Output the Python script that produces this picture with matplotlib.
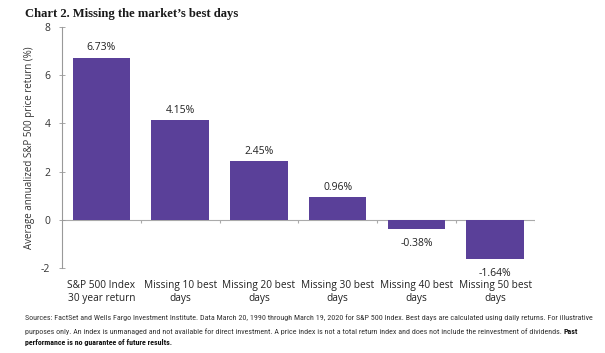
import matplotlib
matplotlib.use("Agg")
import matplotlib.pyplot as plt
import numpy as np
from matplotlib import font_manager

categories = ["S&P 500 Index\n30 year return", "Missing 10 best\ndays", "Missing 20 best\ndays",
              "Missing 30 best\ndays", "Missing 40 best\ndays", "Missing 50 best\ndays"]
values = [6.73, 4.15, 2.45, 0.96, -0.38, -1.64]
value_labels = ["6.73%", "4.15%", "2.45%", "0.96%", "-0.38%", "-1.64%"]
yticks = [-2, 0, 2, 4, 6, 8]

names = {f.name for f in font_manager.fontManager.ttflist}
narrow = "Roboto"
for cand in ["Liberation Sans Narrow", "DejaVu Sans Condensed", "Roboto Condensed",
             "Open Sans Condensed", "Noto Sans Condensed"]:
    if cand in names:
        narrow = cand
        break
plt.rcParams['font.family'] = ['Open Sans', 'DejaVu Sans']

fig = plt.figure(figsize=(6.05, 3.53), dpi=100)
ax = fig.add_axes([0.1025, 0.2408, 0.781, 0.6827])

color = "#5A4099"
x = np.arange(len(categories))
ax.bar(x, values, width=0.73, color=color, zorder=2)

ax.set_xlim(-0.5, len(categories) - 0.5)
ax.set_ylim(-2, 8)
ax.set_yticks(yticks)
ax.set_yticklabels([str(t) for t in yticks], fontsize=7.5, color="#333333")
ax.tick_params(axis='y', direction='inout', length=5, width=0.6, color="#999999", pad=6)

ax.set_xticks(x)
ax.set_xticklabels(categories, fontsize=7.3, color="#222222", linespacing=1.2)
ax.tick_params(axis='x', length=0, pad=9)

for s in ['top', 'right', 'bottom']:
    ax.spines[s].set_visible(False)
ax.spines['left'].set_color("#999999")
ax.spines['left'].set_linewidth(0.8)

ax.axhline(0, color="#aaaaaa", linewidth=0.8, zorder=1)
bounds = np.arange(len(categories) + 1) - 0.5
ax.vlines(bounds[1:], -0.12, 0, color="#aaaaaa", linewidth=0.8)

for xi, v, lab in zip(x, values, value_labels):
    if v >= 0:
        ax.text(xi, v + 0.4, lab, ha='center', va='center', fontsize=7.5, color="#222222")
    else:
        ax.text(xi, v - 0.6, lab, ha='center', va='center', fontsize=7.5, color="#222222")

ax.set_ylabel("Average annualized S&P 500 price return (%)", fontsize=7, color="#333333", labelpad=4)

fig.text(0.041, 0.961, "Chart 2. Missing the market\u2019s best days", fontsize=9.1, fontweight='bold',
         family=['Liberation Serif', 'DejaVu Serif'], color="#1a1a1a", va='center', ha='left')

fn1 = ("Sources: FactSet and Wells Fargo Investment Institute. Data March 20, 1990 through March 19, 2020 for S&P 500 Index. "
       "Best days are calculated using daily returns. For illustrative")
fn2 = ("purposes only. An index is unmanaged and not available for direct investment. A price index is not a total return index "
       "and does not include the reinvestment of dividends. ")
fn3 = "Past"
fn4 = "performance is no guarantee of future results."
fam = [narrow, 'DejaVu Sans']

x0 = 0.041
t1 = fig.text(x0, 0.101, fn1, fontsize=5.3, family=fam, color="#333333", va='center')
fig.canvas.draw()
w = t1.get_window_extent().width
fs = 5.3 * 572.0 / w
t1.set_fontsize(fs)
t2 = fig.text(x0, 0.061, fn2, fontsize=fs, family=fam, color="#333333", va='center')
fig.canvas.draw()
bb = t2.get_window_extent()
fig.text(bb.x1 / fig.bbox.width, 0.061, fn3, fontsize=fs, family=fam,
         fontweight='bold', color="#111111", va='center')
fig.text(x0, 0.029, fn4, fontsize=fs, family=fam, fontweight='bold',
         color="#111111", va='center')

fig.savefig("out.png", dpi=100, facecolor='white')
